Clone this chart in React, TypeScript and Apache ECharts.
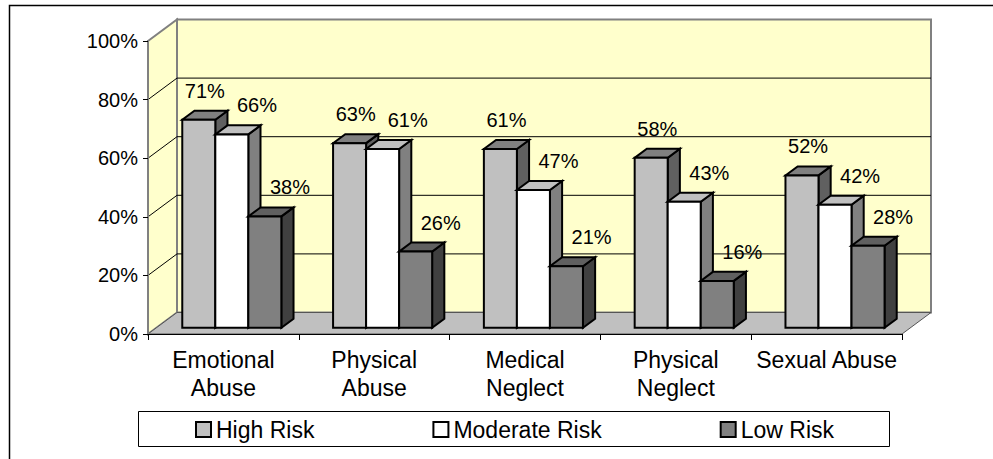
import React, { useEffect, useRef } from "react";
import * as echarts from "echarts";

// Abuse types and the share of cases at each risk level (%)
const CATEGORIES = [
  "Emotional\nAbuse",
  "Physical\nAbuse",
  "Medical\nNeglect",
  "Physical\nNeglect",
  "Sexual Abuse",
];
const SERIES_NAMES = ["High Risk", "Moderate Risk", "Low Risk"];
const HIGH_RISK = [71, 63, 61, 58, 52];
const MODERATE_RISK = [66, 61, 47, 43, 42];
const LOW_RISK = [38, 26, 21, 16, 28];
const Y_TICKS = [0, 20, 40, 60, 80, 100];

const SERIES_VALUES = [HIGH_RISK, MODERATE_RISK, LOW_RISK];

// Oblique projection used for the pseudo-3D look (pixels)
const DEPTH_X = 29;
const DEPTH_Y = 21.5;
const BAR_DEPTH = 0.42; // bar depth as a share of floor depth
const BAR_OFFSET = (1 - BAR_DEPTH) / 2;
const BAR_WIDTH = 0.219; // one bar as a share of the category band
const LABEL_RISE = 29;

const FONT = "'Liberation Sans', Arial, Helvetica, sans-serif";
const WALL_FILL = "#FFFFCC";
const WALL_EDGE = "#808080";

const FACES = [
  { front: "#C0C0C0", top: "#808080", side: "#606060", labelShift: 0 },
  { front: "#FFFFFF", top: "#C0C0C0", side: "#808080", labelShift: 19 },
  { front: "#808080", top: "#606060", side: "#404040", labelShift: 19 },
];

function wallRender(_params: any, api: any) {
  const band = api.size([1, 0])[0];
  const left = api.coord([0, 0])[0] - band / 2;
  const right = api.coord([CATEGORIES.length - 1, 0])[0] + band / 2;
  const bottom = api.coord([0, 0])[1];
  const top = api.coord([0, Y_TICKS[Y_TICKS.length - 1]])[1];
  const children: any[] = [];

  children.push({
    type: "rect",
    shape: { x: left + DEPTH_X, y: top - DEPTH_Y, width: right - left, height: bottom - top },
    style: { fill: WALL_FILL, stroke: WALL_EDGE, lineWidth: 2 },
  });
  children.push({
    type: "polygon",
    shape: {
      points: [
        [left, top],
        [left + DEPTH_X, top - DEPTH_Y],
        [left + DEPTH_X, bottom - DEPTH_Y],
        [left, bottom],
      ],
    },
    style: { fill: WALL_FILL, stroke: WALL_EDGE, lineWidth: 2 },
  });
  Y_TICKS.slice(1, -1).forEach((t) => {
    const y = api.coord([0, t])[1];
    children.push({
      type: "line",
      shape: { x1: left + DEPTH_X, y1: y - DEPTH_Y, x2: right + DEPTH_X, y2: y - DEPTH_Y },
      style: { stroke: "#000", lineWidth: 1 },
    });
    children.push({
      type: "line",
      shape: { x1: left, y1: y, x2: left + DEPTH_X, y2: y - DEPTH_Y },
      style: { stroke: "#000", lineWidth: 1 },
    });
  });
  children.push({
    type: "polygon",
    shape: {
      points: [
        [left, bottom],
        [right, bottom],
        [right + DEPTH_X, bottom - DEPTH_Y],
        [left + DEPTH_X, bottom - DEPTH_Y],
      ],
    },
    style: { fill: "#C0C0C0", stroke: "#555", lineWidth: 1 },
  });
  return { type: "group", children };
}

function barRender(s: number) {
  return (_params: any, api: any) => {
    const i = api.value(0);
    const v = api.value(1);
    const band = api.size([1, 0])[0];
    const [cx, y0] = api.coord([i, 0]);
    const yv = api.coord([i, v])[1];
    const w = band * BAR_WIDTH;
    const ox = DEPTH_X * BAR_OFFSET;
    const oy = DEPTH_Y * BAR_OFFSET;
    const dx = DEPTH_X * BAR_DEPTH;
    const dy = DEPTH_Y * BAR_DEPTH;
    const x0 = cx - 1.5 * w + s * w + ox;
    const yb = y0 - oy;
    const yt = yv - oy;
    const f = FACES[s];
    const edge = { stroke: "#000", lineWidth: 2, lineJoin: "miter" };
    return {
      type: "group",
      children: [
        {
          type: "polygon",
          shape: { points: [[x0 + w, yt], [x0 + w + dx, yt - dy], [x0 + w + dx, yb - dy], [x0 + w, yb]] },
          style: { fill: f.side, ...edge },
        },
        {
          type: "polygon",
          shape: { points: [[x0, yt], [x0 + w, yt], [x0 + w + dx, yt - dy], [x0 + dx, yt - dy]] },
          style: { fill: f.top, ...edge },
        },
        {
          type: "rect",
          shape: { x: x0, y: yt, width: w, height: yb - yt },
          style: { fill: f.front, ...edge },
        },
        {
          type: "text",
          x: x0 + (w + dx) / 2 + f.labelShift,
          y: yt - LABEL_RISE,
          style: {
            text: `${v}%`,
            fontSize: 20,
            fontFamily: FONT,
            fill: "#000",
            align: "center",
            verticalAlign: "middle",
          },
        },
      ],
    };
  };
}

export default function App() {
  const ref = useRef<HTMLDivElement>(null);

  useEffect(() => {
    if (!ref.current) return;
    const chart = echarts.init(ref.current, undefined, { renderer: "svg" });

    const option: any = {
      animation: false,
      backgroundColor: "#fff",
      grid: { left: 148, right: 91, top: 41, bottom: 125 },
      xAxis: {
        type: "category",
        data: CATEGORIES,
        boundaryGap: true,
        z: 10,
        axisLine: { show: true, lineStyle: { color: "#000", width: 1 } },
        axisTick: { show: true, length: 6, lineStyle: { color: "#000", width: 1 } },
        axisLabel: {
          interval: 0,
          fontSize: 23,
          lineHeight: 28,
          margin: 12,
          color: "#000",
          fontFamily: FONT,
        },
      },
      yAxis: {
        type: "value",
        min: 0,
        max: 100,
        interval: 20,
        z: 10,
        axisLine: { show: true, lineStyle: { color: WALL_EDGE, width: 2 } },
        axisTick: { show: true, length: 5, lineStyle: { color: "#000", width: 1 } },
        axisLabel: {
          formatter: "{value}%",
          fontSize: 20,
          margin: 10,
          color: "#000",
          fontFamily: FONT,
        },
        splitLine: { show: false },
      },
      legend: {
        left: 195,
        top: 418,
        padding: 0,
        z: 5,
        itemWidth: 15,
        itemHeight: 15,
        itemGap: 118,
        selectedMode: false,
        textStyle: { fontSize: 23, color: "#000", fontFamily: FONT },
        data: SERIES_NAMES.map((name, s) => ({
          name,
          icon: "rect",
          itemStyle: { color: FACES[s].front, borderColor: "#000", borderWidth: 2 },
        })),
      },
      graphic: [
        {
          type: "rect",
          silent: true,
          z: 0,
          shape: { x: 9.5, y: 5.5, width: 1000, height: 500 },
          style: { fill: "none", stroke: "#000", lineWidth: 1.5 },
        },
        {
          type: "rect",
          silent: true,
          z: 1,
          shape: { x: 138.5, y: 411.5, width: 751, height: 35 },
          style: { fill: "#fff", stroke: "#000", lineWidth: 1 },
        },
      ],
      series: [
        {
          type: "custom",
          name: "walls",
          silent: true,
          z: 1,
          renderItem: wallRender,
          data: [[0, 0]],
          encode: { x: 0, y: 1 },
        },
        ...SERIES_NAMES.map((name, s) => ({
          type: "custom",
          name,
          z: 2,
          itemStyle: { color: FACES[s].front },
          renderItem: barRender(s),
          data: SERIES_VALUES[s].map((v, i) => [i, v]),
          encode: { x: 0, y: 1 },
        })),
      ],
    };

    chart.setOption(option);
    return () => chart.dispose();
  }, []);

  return (
    <div
      ref={ref}
      style={{ position: "fixed", left: 0, top: 0, width: 993, height: 459, background: "#fff" }}
    />
  );
}
